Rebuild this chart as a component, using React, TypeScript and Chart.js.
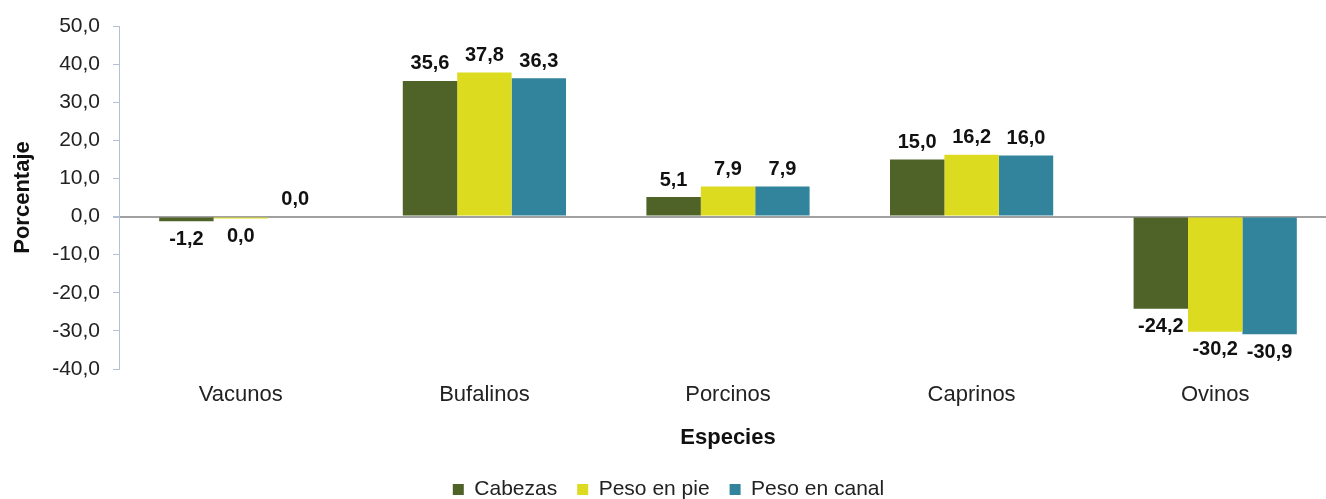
import React, { useEffect, useRef } from 'react';
import { Chart, registerables } from 'chart.js';

Chart.register(...registerables);

const categories = ['Vacunos', 'Bufalinos', 'Porcinos', 'Caprinos', 'Ovinos'];
const seriesNames = ['Cabezas', 'Peso en pie', 'Peso en canal'];
const cabezas = [-1.2, 35.6, 5.1, 15.0, -24.2];
const pesoEnPie = [-0.04, 37.8, 7.9, 16.2, -30.2];
const pesoEnCanal = [0.0, 36.3, 7.9, 16.0, -30.9];
const seriesColors = ['#4F6228', '#DDDB1F', '#31849B'];
const yMin = -40;
const yMax = 50;
const yStep = 10;
const xTitle = 'Especies';
const yTitle = 'Porcentaje';

const FONT = "'Liberation Sans', Arial, sans-serif";

const fmt = (v: number) => {
  const s = v.toFixed(1).replace('.', ',');
  return s === '-0,0' ? '0,0' : s;
};

const valueLabels = {
  id: 'valueLabels',
  afterDatasetsDraw(chart: any) {
    const ctx = chart.ctx;
    ctx.save();
    ctx.font = `bold 20px ${FONT}`;
    ctx.fillStyle = '#111';
    ctx.textAlign = 'center';
    ctx.textBaseline = 'middle';
    chart.data.datasets.forEach((ds: any, i: number) => {
      const meta = chart.getDatasetMeta(i);
      meta.data.forEach((bar: any, j: number) => {
        const v = ds.data[j] as number;
        const neg = v < 0;
        const y = neg ? Math.max(bar.y, bar.base) + 18 : Math.min(bar.y, bar.base) - 17;
        ctx.fillText(fmt(v), bar.x, y);
      });
    });
    ctx.restore();
  },
};

export default function App() {
  const ref = useRef<HTMLCanvasElement>(null);
  useEffect(() => {
    if (!ref.current) return;
    const values = [cabezas, pesoEnPie, pesoEnCanal];
    const chart = new Chart(ref.current, {
      type: 'bar',
      data: {
        labels: categories,
        datasets: seriesNames.map((name, i) => ({
          label: name,
          data: values[i],
          backgroundColor: seriesColors[i],
          borderWidth: 0,
          minBarLength: i === 1 ? 2 : 0,
          categoryPercentage: 0.67,
          barPercentage: 1,
        })),
      },
      options: {
        responsive: false,
        animation: false,
        layout: { padding: { top: 26, right: 8, left: 0, bottom: 0 } },
        plugins: {
          tooltip: { enabled: false },
          legend: {
            position: 'bottom',
            labels: {
              boxWidth: 11,
              boxHeight: 11,
              padding: 20,
              color: '#222',
              font: { family: FONT, size: 21 },
            },
          },
        },
        scales: {
          x: {
            grid: { display: false },
            border: { display: false },
            ticks: { color: '#222', padding: 5, font: { family: FONT, size: 22 } },
            title: {
              display: true,
              text: xTitle,
              color: '#111',
              font: { family: FONT, size: 22, weight: 'bold' },
              padding: { top: 4, bottom: 8 },
            },
            afterFit: (s: any) => { s.height = 90; },
          },
          y: {
            min: yMin,
            max: yMax,
            ticks: {
              stepSize: yStep,
              color: '#222',
              padding: 13,
              font: { family: FONT, size: 21 },
              callback: (v: any) => fmt(Number(v)),
            },
            grid: {
              drawOnChartArea: true,
              drawTicks: true,
              tickLength: 6,
              color: (c: any) => (c.tick && c.tick.value === 0 ? '#A0A0A0' : 'rgba(0,0,0,0)'),
              lineWidth: (c: any) => (c.tick && c.tick.value === 0 ? 2 : 1),
              tickColor: '#B4C0D4',
            },
            border: { display: true, color: '#B4C0D4', width: 1 },
            title: {
              display: true,
              text: yTitle,
              color: '#111',
              font: { family: FONT, size: 22, weight: 'bold' },
              padding: { top: 10, bottom: 0 },
            },
            afterFit: (s: any) => { s.width = 119; },
          },
        },
      },
      plugins: [valueLabels],
    });
    return () => chart.destroy();
  }, []);
  return (
    <div style={{ position: 'fixed', left: 0, top: 0, width: 1326, height: 499, overflow: 'hidden', background: '#fff' }}>
      <canvas ref={ref} width={1345} height={510} style={{ display: 'block' }} />
    </div>
  );
}
